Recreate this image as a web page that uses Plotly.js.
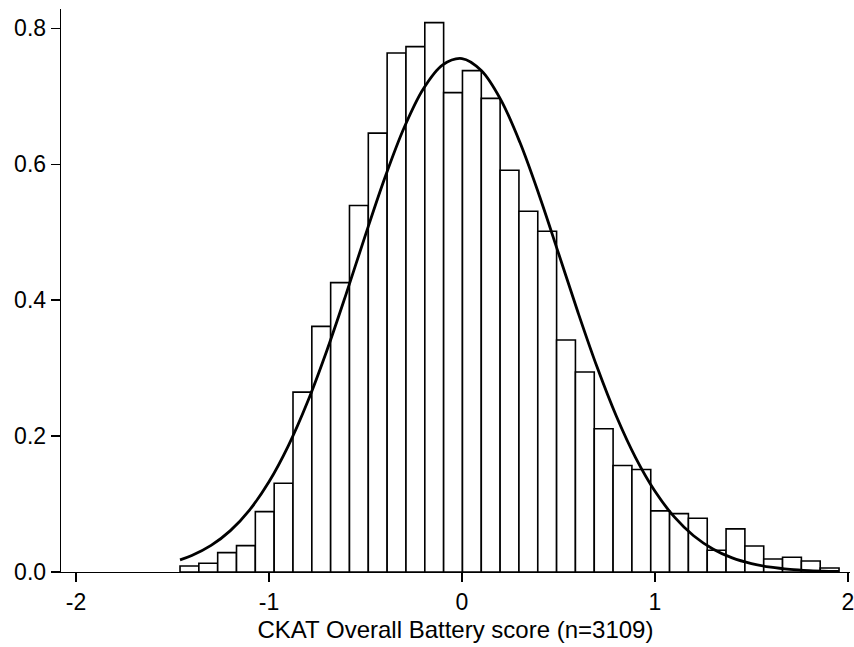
<!DOCTYPE html>
<html>
<head>
<meta charset="utf-8">
<script src="https://cdn.plot.ly/plotly-3.0.1.min.js"></script>
<style>
  html, body { margin: 0; padding: 0; background: #fff; }
  #chart { width: 854px; height: 647px; }
</style>
</head>
<body>
<div id="chart"></div>
<script>
// ---- data ----
var binStart = -1.461;     // left edge of first bin
var binWidth = 0.09756;    // bin width
var densities = [
  0.0088, 0.0128, 0.0285, 0.0388, 0.0889, 0.1306, 0.2647, 0.3614, 0.4258, 0.5392,
  0.6458, 0.7637, 0.7730, 0.8084, 0.7053, 0.7377, 0.6969, 0.5912, 0.5309, 0.5014,
  0.3413, 0.2942, 0.2107, 0.1567, 0.1508, 0.0899, 0.0859, 0.0791, 0.0320, 0.0634,
  0.0383, 0.0192, 0.0216, 0.0162, 0.0059
];
var curveX = [
  -1.461, -1.4, -1.3, -1.2, -1.1, -1.0, -0.9, -0.8, -0.7, -0.6, -0.5, -0.4, -0.3, -0.2, -0.1,
  0.0, 0.1, 0.2, 0.3, 0.4, 0.5, 0.6, 0.7, 0.8, 0.9, 1.0, 1.1, 1.2, 1.3, 1.4, 1.5, 1.6, 1.7, 1.8, 1.9, 1.953
];
var curveY = [
  0.0178, 0.0242, 0.0391, 0.0609, 0.0915, 0.1327, 0.1856, 0.2504, 0.3260, 0.4093, 0.4960, 0.5797, 0.6536, 0.7110, 0.7462,
  0.7555, 0.7379, 0.6954, 0.6322, 0.5544, 0.4691, 0.3829, 0.3015, 0.2291, 0.1679, 0.1187, 0.0810, 0.0533, 0.0339, 0.0207, 0.0123, 0.0070, 0.0038, 0.0020, 0.0010, 0.0007
];
var xTicks = [-2, -1, 0, 1, 2];
var yTicks = [0, 0.2, 0.4, 0.6, 0.8];
var xTitle = 'CKAT Overall Battery score (n=3109)';

// ---- build ----
var binCenters = densities.map(function (_, i) { return binStart + binWidth * (i + 0.5); });

var bars = {
  type: 'bar',
  x: binCenters,
  y: densities,
  width: binWidth,
  marker: { color: '#ffffff', line: { color: '#000000', width: 1.6 } },
  hoverinfo: 'x+y'
};
var curve = {
  type: 'scatter',
  mode: 'lines',
  x: curveX,
  y: curveY,
  line: { color: '#000000', width: 2.8, shape: 'spline' },
  hoverinfo: 'x+y'
};

var font = 'Liberation Sans, Arial, Helvetica, sans-serif';
var layout = {
  width: 854,
  height: 647,
  margin: { l: 61, r: 4, t: 9, b: 75 },
  paper_bgcolor: '#ffffff',
  plot_bgcolor: '#ffffff',
  showlegend: false,
  font: { family: font, color: '#000000', size: 23 },
  bargap: 0,
  xaxis: {
    range: [-2.0777, 2.0104],
    tickvals: xTicks,
    ticktext: xTicks.map(String),
    ticklabeloverflow: 'allow',
    showline: true, linecolor: '#000000', linewidth: 1.3,
    ticks: 'outside', ticklen: 9, tickwidth: 1.3, tickcolor: '#000000',
    showgrid: false, zeroline: false,
    tickfont: { family: font, size: 23, color: '#000000' },
    title: { text: xTitle, font: { family: font, size: 24, color: '#000000' }, standoff: 7 }
  },
  yaxis: {
    range: [0, 0.8284],
    tickvals: yTicks,
    tickformat: '.1f',
    showline: true, linecolor: '#000000', linewidth: 1.3,
    ticks: 'outside', ticklen: 9, tickwidth: 1.3, tickcolor: '#000000',
    showgrid: false, zeroline: false,
    tickfont: { family: font, size: 23, color: '#000000' }
  }
};

Plotly.newPlot('chart', [bars, curve], layout, { displayModeBar: false, staticPlot: true });
</script>
</body>
</html>
